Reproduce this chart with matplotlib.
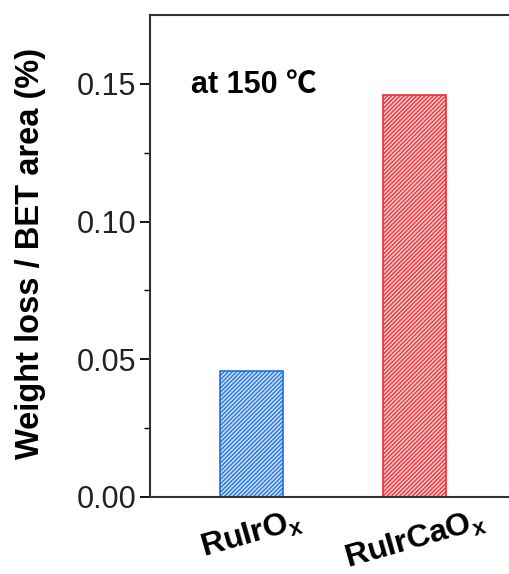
import numpy as np
import matplotlib
matplotlib.use("Agg")
import matplotlib.pyplot as plt

samples = ["RuIrO$_\\mathregular{x}$", "RuIrCaO$_\\mathregular{x}$"]
loss = [0.0456, 0.1458]
edge_cols = ["#1f6fe0", "#f22a30"]
face_cols = ["#c4dcf7", "#fcc8ca"]

plt.rcParams['font.family'] = ['Liberation Sans', 'DejaVu Sans']
plt.rcParams['hatch.linewidth'] = 0.9
plt.rcParams['mathtext.fontset'] = 'custom'
plt.rcParams['mathtext.rm'] = 'Liberation Sans:bold'

fig = plt.figure(figsize=(5.09, 5.74), dpi=100)
ax = fig.add_axes([150/509, 1-497/574, 370/509, 482/574])

x = np.arange(len(samples))
for i in range(len(samples)):
    ax.bar(x[i], loss[i], width=0.385, color=face_cols[i],
           edgecolor=edge_cols[i], hatch='////////', linewidth=1.2)

ax.set_xlim(-0.62, 1.645)
ax.set_ylim(0, 0.175)
ax.set_yticks([0, 0.05, 0.10, 0.15])
ax.set_yticklabels(["0.00", "0.05", "0.10", "0.15"], color='#222222')
ax.set_yticks([0.025, 0.075, 0.125], minor=True)
ax.tick_params(axis='y', which='major', length=7, width=1.3, labelsize=22, pad=3)
ax.tick_params(axis='y', which='minor', length=4, width=1.0)
ax.set_xticks(x)
ax.set_xticklabels(samples, rotation=16, fontsize=23, fontweight='bold', ha='center')
ax.tick_params(axis='x', length=0, pad=6)
for s in ax.spines.values():
    s.set_linewidth(1.5)
    s.set_color('#333333')
ax.spines['right'].set_visible(False)

ax.set_ylabel("Weight loss / BET area (%)", fontsize=23.5, fontweight='bold')
ax.yaxis.set_label_coords(-0.28, 0.505)
ax.text(0.11, 0.855, "at 150 \u2103", transform=ax.transAxes, fontsize=22,
        fontweight='bold', va='center', family=['Liberation Sans', 'Noto Sans CJK SC', 'DejaVu Sans'])

fig.savefig("out.png", dpi=100)
